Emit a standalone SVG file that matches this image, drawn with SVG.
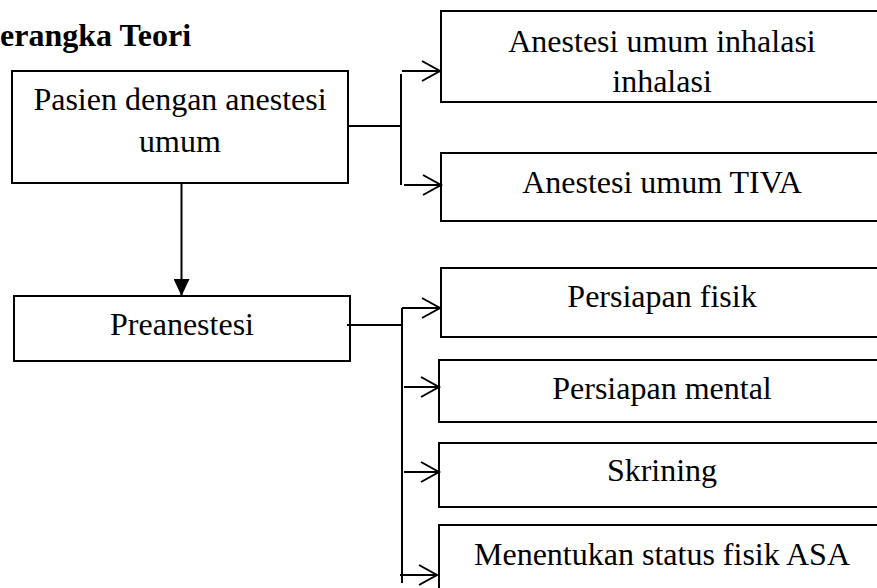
<svg xmlns="http://www.w3.org/2000/svg" width="877" height="588" viewBox="0 0 877 588">
<style>
.box{fill:#fff;stroke:#000;stroke-width:2}
.t{font-family:"Liberation Serif","Times New Roman",serif;font-size:32px;fill:#000;text-anchor:middle}
.title{font-family:"Liberation Serif","Times New Roman",serif;font-size:32px;font-weight:bold;fill:#000}
.c{fill:none;stroke:#000;stroke-width:2}
</style>
<defs>
<marker id="open" markerWidth="22" markerHeight="24" refX="19" refY="11" orient="auto" markerUnits="userSpaceOnUse">
<path d="M1,1 L19,11 L1,21" fill="none" stroke="#000" stroke-width="2"/>
</marker>
<marker id="filled" markerWidth="18" markerHeight="16" refX="17" refY="8" orient="auto" markerUnits="userSpaceOnUse">
<path d="M0,0 L17,8 L0,16 Z" fill="#000"/>
</marker>
</defs>
<rect width="877" height="588" fill="#fff"/>
<text class="title" x="0" y="46">erangka Teori</text>
<g id="pasien">
<rect class="box" x="12" y="71" width="336" height="112"/>
<text class="t" x="180" y="110">Pasien dengan anestesi</text>
<text class="t" x="180" y="152">umum</text>
</g>
<g id="inhalasi">
<rect class="box" x="441" y="11" width="445" height="91"/>
<text class="t" x="662" y="52">Anestesi umum inhalasi</text>
<text class="t" x="662" y="92">inhalasi</text>
</g>
<g id="tiva">
<rect class="box" x="441" y="153" width="445" height="68"/>
<text class="t" x="662" y="193">Anestesi umum TIVA</text>
</g>
<g id="preanestesi">
<rect class="box" x="14" y="296" width="336" height="65"/>
<text class="t" x="182" y="335">Preanestesi</text>
</g>
<g id="fisik">
<rect class="box" x="441" y="268" width="445" height="69"/>
<text class="t" x="662" y="307">Persiapan fisik</text>
</g>
<g id="mental">
<rect class="box" x="439" y="360" width="447" height="62"/>
<text class="t" x="662" y="399">Persiapan mental</text>
</g>
<g id="skrining">
<rect class="box" x="439" y="443" width="447" height="64"/>
<text class="t" x="662" y="481">Skrining</text>
</g>
<g id="asa">
<rect class="box" x="439" y="525" width="447" height="80"/>
<text class="t" x="662" y="565">Menentukan status fisik ASA</text>
</g>
<g id="connectors">
<path class="c" d="M348,126 H401"/>
<path class="c" d="M401,74 V185"/>
<path class="c" d="M402,71 H440" marker-end="url(#open)"/>
<path class="c" d="M404,185 H441" marker-end="url(#open)"/>
<path class="c" d="M181.5,183 V296" marker-end="url(#filled)"/>
<path class="c" d="M347,325 H401" stroke-width="1.5"/>
<path class="c" d="M402,308 V583"/>
<path class="c" d="M402,308 H440" marker-end="url(#open)"/>
<path class="c" d="M404,387 H439" marker-end="url(#open)"/>
<path class="c" d="M404,472 H439" marker-end="url(#open)"/>
<path class="c" d="M400,575 H437" marker-end="url(#open)"/>
</g>
</svg>
